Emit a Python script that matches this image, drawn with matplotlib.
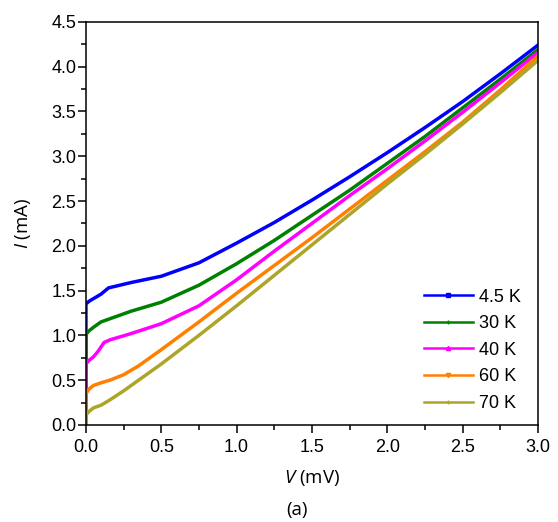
import matplotlib
matplotlib.use('Agg')
import matplotlib.pyplot as plt
from matplotlib.lines import Line2D
from matplotlib.ticker import FormatStrFormatter

plt.rcParams['font.family'] = ['Liberation Sans', 'DejaVu Sans']
plt.rcParams['mathtext.fontset'] = 'custom'
plt.rcParams['mathtext.it'] = 'Open Sans:italic'
plt.rcParams['mathtext.rm'] = 'Open Sans'

# I-V curves (V in mV, I in mA)
v_45 = [0, 0, 0.02, 0.05, 0.1, 0.15, 0.2, 0.3, 0.5, 0.75, 1.0, 1.25, 1.5, 1.75, 2.0, 2.25, 2.5, 2.75, 3.0]
i_45 = [0, 1.35, 1.38, 1.41, 1.46, 1.53, 1.55, 1.59, 1.66, 1.81, 2.03, 2.26, 2.51, 2.77, 3.04, 3.32, 3.61, 3.92, 4.24]

v_30 = [0, 0, 0.02, 0.05, 0.1, 0.15, 0.2, 0.3, 0.5, 0.75, 1.0, 1.25, 1.5, 1.75, 2.0, 2.25, 2.5, 2.75, 3.0]
i_30 = [0, 1.01, 1.05, 1.09, 1.15, 1.18, 1.21, 1.27, 1.37, 1.56, 1.80, 2.06, 2.34, 2.62, 2.92, 3.22, 3.54, 3.86, 4.19]

v_40 = [0, 0, 0.02, 0.05, 0.08, 0.12, 0.16, 0.2, 0.3, 0.5, 0.75, 1.0, 1.25, 1.5, 1.75, 2.0, 2.25, 2.5, 2.75, 3.0]
i_40 = [0, 0.68, 0.72, 0.76, 0.82, 0.92, 0.95, 0.97, 1.02, 1.13, 1.33, 1.62, 1.94, 2.25, 2.56, 2.86, 3.17, 3.49, 3.82, 4.16]

v_60 = [0, 0, 0.02, 0.05, 0.1, 0.16, 0.25, 0.35, 0.5, 0.75, 1.0, 1.25, 1.5, 1.75, 2.0, 2.25, 2.5, 2.75, 3.0]
i_60 = [0, 0.35, 0.40, 0.44, 0.47, 0.50, 0.56, 0.66, 0.84, 1.15, 1.47, 1.78, 2.09, 2.41, 2.73, 3.05, 3.38, 3.74, 4.12]

v_70 = [0, 0, 0.02, 0.05, 0.1, 0.16, 0.25, 0.5, 0.75, 1.0, 1.25, 1.5, 1.75, 2.0, 2.25, 2.5, 2.75, 3.0]
i_70 = [0, 0.11, 0.15, 0.19, 0.22, 0.28, 0.38, 0.68, 1.00, 1.33, 1.67, 2.01, 2.35, 2.69, 3.02, 3.36, 3.71, 4.07]

labels = ['4.5 K', '30 K', '40 K', '60 K', '70 K']
colors = ['#0000FF', '#008000', '#FF00FF', '#FF8000', '#ADA52A']
markers = ['s', '+', '^', 'v', '+']

fig = plt.figure(figsize=(5.58, 5.22), dpi=100)
ax = fig.add_axes([0.154, 0.186, 0.81, 0.772])

curves = [(v_45, i_45), (v_30, i_30), (v_40, i_40), (v_60, i_60), (v_70, i_70)]
for (v, i), c in zip(curves, colors):
    ax.plot(v, i, color=c, lw=2.5, solid_joinstyle='round')

ax.set_xlim(0, 3.0)
ax.set_ylim(0, 4.5)
ax.set_xticks([0, 0.5, 1.0, 1.5, 2.0, 2.5, 3.0])
ax.set_yticks([0, 0.5, 1.0, 1.5, 2.0, 2.5, 3.0, 3.5, 4.0, 4.5])
ax.set_xticks([0.25, 0.75, 1.25, 1.75, 2.25, 2.75], minor=True)
ax.set_yticks([0.25, 0.75, 1.25, 1.75, 2.25, 2.75, 3.25, 3.75, 4.25], minor=True)
ax.xaxis.set_major_formatter(FormatStrFormatter('%.1f'))
ax.yaxis.set_major_formatter(FormatStrFormatter('%.1f'))
ax.tick_params(which='major', direction='out', length=5.5, width=1.1, labelsize=13,
               top=False, right=False)
ax.tick_params(axis='x', which='major', pad=4.5)
ax.tick_params(axis='y', which='major', pad=1.5)
ax.tick_params(which='minor', direction='out', length=3.6, width=1.1, top=False, right=False)
for s in ax.spines.values():
    s.set_linewidth(1.1)

ax.set_xlabel(r'$V$ (mV)', fontsize=13.5, family='Open Sans', labelpad=9)
ax.set_ylabel(r'$I$ (mA)', fontsize=13.5, family='Open Sans', labelpad=13)
fig.text(0.532, 0.023, '(a)', fontsize=13.5, family='Open Sans', ha='center', va='center')

handles = [Line2D([0], [0], color=c, lw=1.8, marker=m, markersize=3, markeredgewidth=1)
           for c, m in zip(colors, markers)]
ax.legend(handles, labels, loc='upper left', bbox_to_anchor=(0.76, 0.447),
          bbox_transform=fig.transFigure, frameon=False, fontsize=13,
          handlelength=2.7, handletextpad=0.35, labelspacing=0.53,
          borderpad=0, borderaxespad=0)

fig.savefig('out.png', dpi=100)
